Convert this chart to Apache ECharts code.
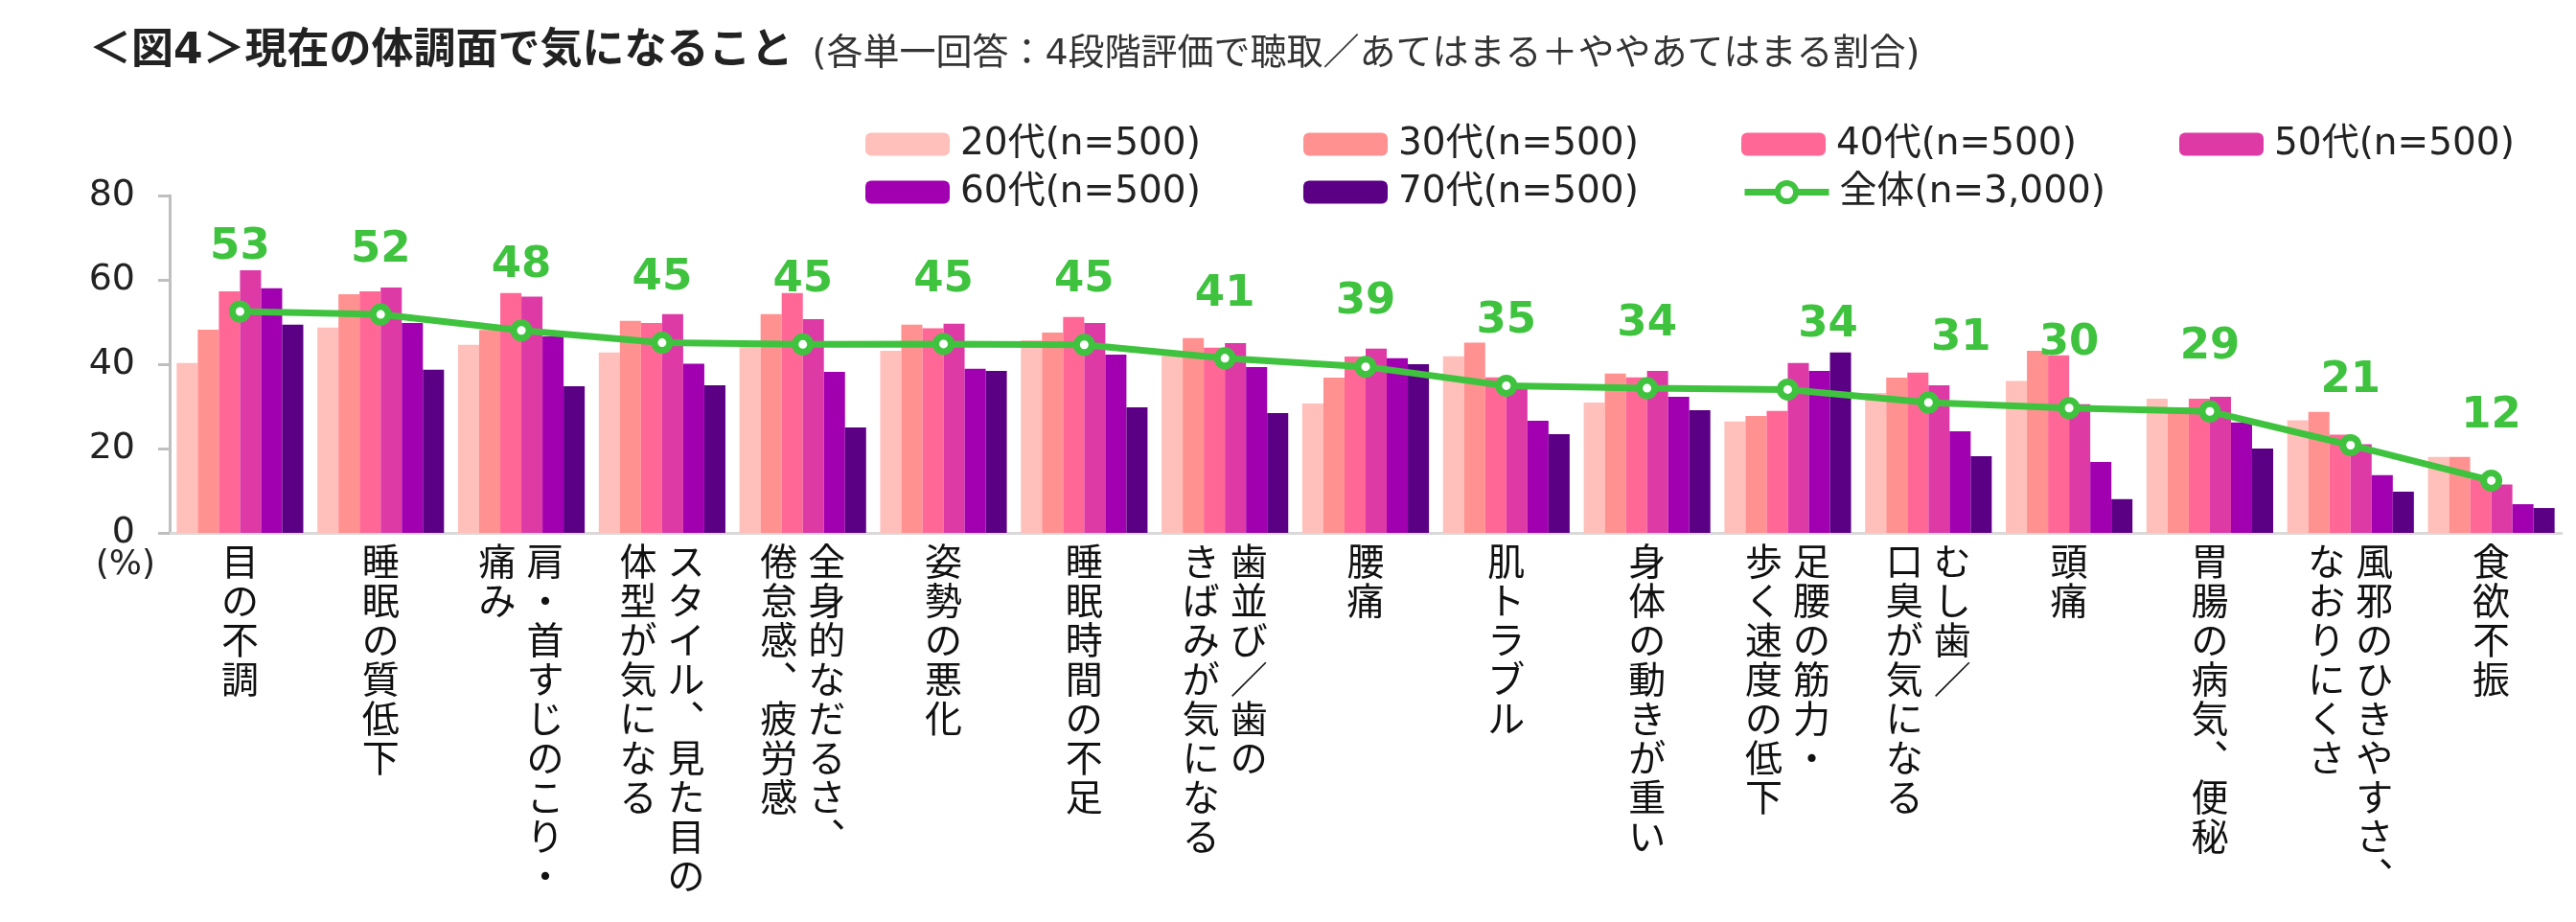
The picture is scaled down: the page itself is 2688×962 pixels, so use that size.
<!DOCTYPE html>
<html>
<head>
<meta charset="utf-8">
<title>現在の体調面で気になること</title>
<script src="https://cdn.jsdelivr.net/npm/echarts@6/dist/echarts.min.js"></script>
<style>
  html, body { margin: 0; padding: 0; background: #fff; }
  #chart { width: 2688px; height: 962px; }
</style>
</head>
<body>
<div id="chart"></div>
<script>
// categories: columns of the vertical label split by \n, right column first
const categories = [
  '目の不調',
  '睡眠の質低下',
  '肩・首すじのこり・\n痛み',
  'スタイル、見た目の\n体型が気になる',
  '全身的なだるさ、\n倦怠感、疲労感',
  '姿勢の悪化',
  '睡眠時間の不足',
  '歯並び／歯の\nきばみが気になる',
  '腰痛',
  '肌トラブル',
  '身体の動きが重い',
  '足腰の筋力・\n歩く速度の低下',
  'むし歯／\n口臭が気になる',
  '頭痛',
  '胃腸の病気、便秘',
  '風邪のひきやすさ、\nなおりにくさ',
  '食欲不振'
];

const seriesNames = ['20代(n=500)', '30代(n=500)', '40代(n=500)', '50代(n=500)', '60代(n=500)', '70代(n=500)'];
const totalName = '全体(n=3,000)';

const age20 = [40.3, 48.7, 44.6, 42.8, 44.5, 43.2, 45.7, 42.0, 30.7, 41.9, 30.9, 26.4, 33.2, 36.0, 31.8, 26.7, 18.0];
const age30 = [48.2, 56.6, 48.1, 50.3, 51.9, 49.4, 47.5, 46.2, 36.8, 45.1, 37.8, 27.7, 36.8, 43.2, 29.8, 28.7, 18.0];
const age40 = [57.3, 57.3, 56.9, 49.8, 56.9, 48.5, 51.2, 43.9, 41.8, 36.9, 36.9, 28.9, 38.0, 42.1, 31.8, 23.3, 12.8];
const age50 = [62.3, 58.2, 56.0, 51.9, 50.7, 49.6, 49.8, 45.0, 43.7, 34.7, 38.4, 40.3, 35.0, 30.5, 32.3, 21.0, 11.5];
const age60 = [58.0, 49.8, 46.6, 40.1, 38.2, 38.9, 42.3, 39.3, 41.4, 26.6, 32.3, 38.4, 24.1, 16.8, 26.2, 13.7, 6.8];
const age70 = [49.4, 38.7, 34.8, 35.0, 25.0, 38.4, 29.8, 28.4, 40.0, 23.4, 29.1, 42.8, 18.2, 8.0, 20.0, 9.8, 5.9];
const total = [52.5, 51.8, 48.0, 45.1, 44.7, 44.8, 44.6, 41.4, 39.4, 34.9, 34.3, 34.0, 30.9, 29.6, 28.8, 20.8, 12.4];

const yTicks = { min: 0, max: 80, interval: 20 };

const FONT = "'DejaVu Sans', 'Noto Sans CJK JP', sans-serif";
const barColors = ['#FFBFBA', '#FF9191', '#FF6797', '#DE3AA6', '#A100B1', '#5B0085'];
const green = '#3FC33F';

// vertical writing: 、 becomes its vertical form
const vertForms = { '、': '︑' };

function verticalLabel(name) {
  const cols = name.split('\n').reverse();
  const rows = Math.max.apply(null, cols.map(c => c.length));
  const lines = [];
  for (let r = 0; r < rows; r++) {
    lines.push(cols.map(c => {
      const ch = c[r];
      return '{c|' + (ch ? (vertForms[ch] || ch) : '\u3000') + '}';
    }).join(''));
  }
  return lines.join('\n');
}

function legendRow(top, names) {
  return {
    left: 898,
    top: top,
    width: 1790,
    itemWidth: 88,
    itemHeight: 24,
    itemGap: 58,
    data: names,
    textStyle: {
      fontFamily: FONT,
      fontSize: 39,
      color: '#222',
      width: 300,
      lineHeight: 24,
      padding: [0, 0, 0, 6]
    }
  };
}

const chart = echarts.init(document.getElementById('chart'), null, { renderer: 'canvas' });

const barSeries = [age20, age30, age40, age50, age60, age70].map((vals, i) => ({
  name: seriesNames[i],
  type: 'bar',
  data: vals,
  barGap: '0%',
  barCategoryGap: '10%',
  itemStyle: { color: barColors[i] }
}));

chart.setOption({
  animation: false,
  backgroundColor: '#fff',
  textStyle: { fontFamily: FONT },
  title: {
    left: 88,
    top: 24,
    text: '{a|＜図4＞現在の体調面で気になること}{b|(各単一回答：4段階評価で聴取／あてはまる＋ややあてはまる割合)}',
    textStyle: {
      rich: {
        a: { fontFamily: FONT, fontSize: 44, fontWeight: 'bold', color: '#222', lineHeight: 52 },
        b: { fontFamily: FONT, fontSize: 38, fontWeight: 'normal', color: '#333', padding: [4, 0, 0, 20], lineHeight: 52 }
      }
    }
  },
  legend: [
    legendRow(126, seriesNames.slice(0, 4)),
    legendRow(176, seriesNames.slice(4).concat([{
      name: totalName,
      lineStyle: { width: 7 },
      itemStyle: { borderWidth: 6 }
    }]))
  ],
  grid: { left: 177, right: 15, top: 204, bottom: 406, containLabel: false },
  xAxis: {
    type: 'category',
    data: categories,
    axisLine: { lineStyle: { color: '#D9D9D9', width: 3 } },
    axisTick: { show: false },
    axisLabel: {
      interval: 0,
      margin: 13,
      verticalAlign: 'top',
      formatter: verticalLabel,
      rich: {
        c: { fontFamily: FONT, fontSize: 39, lineHeight: 41, width: 50, align: 'center', color: '#111' }
      }
    }
  },
  yAxis: {
    type: 'value',
    min: yTicks.min,
    max: yTicks.max,
    interval: yTicks.interval,
    axisLine: { show: true, lineStyle: { color: '#BFBFBF', width: 3 } },
    axisTick: { show: true, length: 12, lineStyle: { color: '#BFBFBF', width: 3 } },
    axisLabel: { margin: 36, fontFamily: FONT, fontSize: 38, color: '#222' },
    splitLine: { show: false }
  },
  graphic: [{
    type: 'text',
    right: 2688 - 162,
    top: 572,
    style: { text: '(%)', font: '36px ' + FONT, fill: '#222' }
  }],
  series: barSeries.concat([{
    name: totalName,
    type: 'line',
    z: 5,
    data: total.map((v, i) => (i === 11 ? { value: v, label: { offset: [42, 0] } }
      : i === 12 ? { value: v, label: { offset: [34, 0] } } : v)),
    symbol: 'circle',
    symbolSize: 16,
    lineStyle: { color: green, width: 7 },
    itemStyle: { color: '#fff', borderColor: green, borderWidth: 7 },
    emphasis: { disabled: true },
    label: {
      show: true,
      position: 'top',
      distance: 33,
      fontFamily: FONT,
      fontSize: 45,
      fontWeight: 'bold',
      color: green,
      formatter: p => Math.round(p.value)
    }
  }])
});

window.addEventListener('resize', () => chart.resize());
</script>
</body>
</html>
